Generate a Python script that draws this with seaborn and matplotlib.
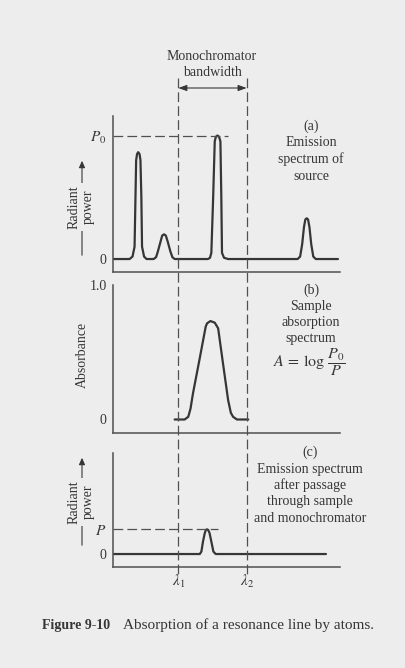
import numpy as np
import pandas as pd
import matplotlib
matplotlib.use("Agg")
import matplotlib.pyplot as plt
import matplotlib.transforms as mtransforms
import seaborn as sns

# ---------------- data ----------------
lambda_1 = 28.6          # left edge of monochromator bandwidth
lambda_2 = 58.8          # right edge of monochromator bandwidth
P0_level = 1.0
P_level = 0.2
P0_dash_end = 50.5
P_dash_end = 46.3

# (a) emission spectrum of source (relative radiant power, P0 = 1)
source_x = [0, 7.1, 8.4, 9.3, 9.7, 10.0, 10.4, 10.9, 11.5, 11.9, 12.3, 12.6, 13.5, 14.6,
            17.7, 18.8, 19.6, 20.8, 21.5, 22.3, 23.1, 23.9, 25.1, 26.0, 27.0,
            41.7, 42.6, 43.2, 44.0, 44.7, 45.2, 45.9, 46.6, 47.2, 47.6, 47.9, 48.8, 50.6,
            81.3, 82.4, 83.3, 84.1, 84.7, 85.3, 85.9, 86.5, 87.3, 88.2, 89.3, 99.1]
source_y = [0, 0, 0.02, 0.1, 0.5, 0.8, 0.85, 0.865, 0.85, 0.8, 0.5, 0.1, 0.02, 0,
            0, 0.015, 0.062, 0.143, 0.19, 0.20, 0.19, 0.143, 0.062, 0.015, 0,
            0, 0.01, 0.05, 0.5, 0.953, 0.99, 1.0, 0.99, 0.953, 0.5, 0.05, 0.01, 0,
            0, 0.02, 0.12, 0.26, 0.32, 0.33, 0.32, 0.26, 0.12, 0.02, 0, 0]

# (b) sample absorption spectrum (absorbance)
absorb_x = [27.0, 31.4, 33.0, 34.0, 35.1, 37.9, 40.7, 41.3, 42.8, 44.7, 46.2, 48.4,
            50.6, 51.8, 52.8, 54.5, 59.5]
absorb_y = [0, 0, 0.02, 0.08, 0.195, 0.44, 0.69, 0.715, 0.732, 0.72, 0.678, 0.41,
            0.145, 0.05, 0.02, 0, 0]

# (c) emission spectrum after sample and monochromator
trans_x = [0, 38.1, 38.8, 39.5, 40.3, 40.8, 41.3, 41.8, 42.4, 43.2, 44.1, 45.1, 93.8]
trans_y = [0, 0, 0.02, 0.1, 0.17, 0.195, 0.2, 0.195, 0.17, 0.1, 0.02, 0, 0]

a_ticks = [0, P0_level]
a_ticklabels = ["0", "$P_0$"]
b_ticks = [0, 1.0]
b_ticklabels = ["0", "1.0"]
c_ticks = [0, P_level]
c_ticklabels = ["0", "$P$"]
x_ticks = [lambda_1, lambda_2]
x_ticklabels = [r"$\lambda_1$", r"$\lambda_2$"]

# ---------------- style ----------------
sns.set_style("white")
BG = "#ededed"
INK = "#363636"
AX = "#505050"
plt.rcParams["font.family"] = ["Liberation Serif", "DejaVu Serif"]
plt.rcParams["mathtext.fontset"] = "stix"
plt.rcParams["lines.scale_dashes"] = False
plt.rcParams["text.color"] = INK
plt.rcParams["axes.labelcolor"] = INK
plt.rcParams["xtick.color"] = AX
plt.rcParams["ytick.color"] = AX
plt.rcParams["xtick.labelcolor"] = INK
plt.rcParams["ytick.labelcolor"] = INK

W, H = 406, 668
fig = plt.figure(figsize=(W / 100, H / 100), dpi=100, facecolor=BG)


def rect(left, top, right, bottom):
    return [left / W, 1 - bottom / H, (right - left) / W, (bottom - top) / H]


def ftext(x, y, s, ha="center", va="center", **kw):
    return fig.text(x / W, 1 - y / H, s, ha=ha, va=va, **kw)


ax_a = fig.add_axes(rect(113.5, 116, 340, 272))
ax_b = fig.add_axes(rect(113.5, 285, 340, 433))
ax_c = fig.add_axes(rect(113.5, 453, 340, 567))

FS = 10
DASH = (0, (7, 3))
for ax in (ax_a, ax_b, ax_c):
    ax.set_facecolor("none")
    ax.set_xlim(0, 100)
    for s in ("top", "right"):
        ax.spines[s].set_visible(False)
    for s in ("left", "bottom"):
        ax.spines[s].set_color(AX)
        ax.spines[s].set_linewidth(1.1)
    ax.set_xticks([])
    ax.tick_params(axis="y", labelsize=FS, pad=5)

# (a)
sns.lineplot(x=source_x, y=source_y, ax=ax_a, estimator=None, sort=False,
             color=INK, linewidth=1.6, solid_joinstyle="round")
ax_a.plot([0, P0_dash_end], [P0_level, P0_level], color=AX, lw=0.9, ls=DASH)
ax_a.set_ylim(-0.105, 1.158)
ax_a.set_yticks(a_ticks, a_ticklabels)
ax_a.tick_params(axis="y", length=0)
ax_a.get_yticklabels()[1].set_fontsize(11)

# (b)
sns.lineplot(x=absorb_x, y=absorb_y, ax=ax_b, estimator=None, sort=False,
             color=INK, linewidth=1.6, solid_joinstyle="round")
ax_b.set_ylim(-0.1004, 1.0)
ax_b.set_yticks(b_ticks, b_ticklabels)
ax_b.tick_params(axis="y", direction="in", length=6.5, width=1.1)

# (c)
sns.lineplot(x=trans_x, y=trans_y, ax=ax_c, estimator=None, sort=False,
             color=INK, linewidth=1.6, solid_joinstyle="round")
ax_c.plot([0, P_dash_end], [P_level, P_level], color=AX, lw=0.9, ls=DASH)
ax_c.set_ylim(-0.105, 0.818)
ax_c.set_yticks(c_ticks, c_ticklabels)
ax_c.tick_params(axis="y", length=0)
ax_c.get_yticklabels()[1].set_fontsize(11)
ax_c.set_xticks(x_ticks, x_ticklabels)
ax_c.tick_params(axis="x", length=0, labelsize=11, pad=4)
ax_c.set_xlabel("Wavelength", fontsize=FS, labelpad=1)

# monochromator bandwidth dashed verticals (x in data, y in figure)
blend = mtransforms.blended_transform_factory(ax_c.transData, fig.transFigure)
for lam in (lambda_1, lambda_2):
    ax_c.plot([lam, lam], [1 - 78 / H, 1 - 576 / H], transform=blend,
              color=AX, lw=0.9, ls=DASH, clip_on=False)
ax_c.annotate("", xy=(lambda_2, 1 - 88 / H), xytext=(lambda_1, 1 - 88 / H),
              xycoords=blend, textcoords=blend,
              arrowprops=dict(arrowstyle="<|-|>,head_length=0.5,head_width=0.18",
                              color=INK, lw=0.8, shrinkA=0, shrinkB=0))
ftext(212, 57, "Monochromator", fontsize=FS)
ftext(212, 73, "bandwidth", fontsize=FS)

# panel descriptions
for y, s in [(126, "(a)"), (142, "Emission"), (159, "spectrum of"), (176, "source")]:
    ftext(311, y, s, fontsize=FS)
for y, s in [(290, "(b)"), (306.5, "Sample"), (322.5, "absorption"), (338.5, "spectrum")]:
    ftext(311, y, s, fontsize=FS)
ftext(309, 362, r"$A\,=\,\log\,\dfrac{P_0}{P}$", fontsize=11.5)
for y, s in [(452, "(c)"), (469, "Emission spectrum"), (485.5, "after passage"),
             (502, "through sample"), (519, "and monochromator")]:
    ftext(310, y, s, fontsize=FS)

# y-axis labels with arrows
for y_lo, y_hi, y_mid in [(258, 158, 207), (548, 455, 502)]:
    fig.add_artist(matplotlib.patches.FancyArrowPatch(
        (82 / W, 1 - y_lo / H), (82 / W, 1 - y_hi / H), transform=fig.transFigure,
        arrowstyle="-|>,head_length=4,head_width=1.8", color=INK, lw=0.8))
    ftext(81.5, y_mid, "Radiant\npower", fontsize=FS, rotation=90, linespacing=1.15,
          bbox=dict(facecolor=BG, edgecolor="none", pad=1.5))
ftext(82, 355, "Absorbance", fontsize=FS, rotation=90)

# caption
ftext(42, 625, "Figure 9-10", ha="left", fontsize=FS, weight="bold")
ftext(123, 625, "Absorption of a resonance line by atoms.", ha="left", fontsize=11)

fig.savefig("out.png", dpi=100, facecolor=BG)
